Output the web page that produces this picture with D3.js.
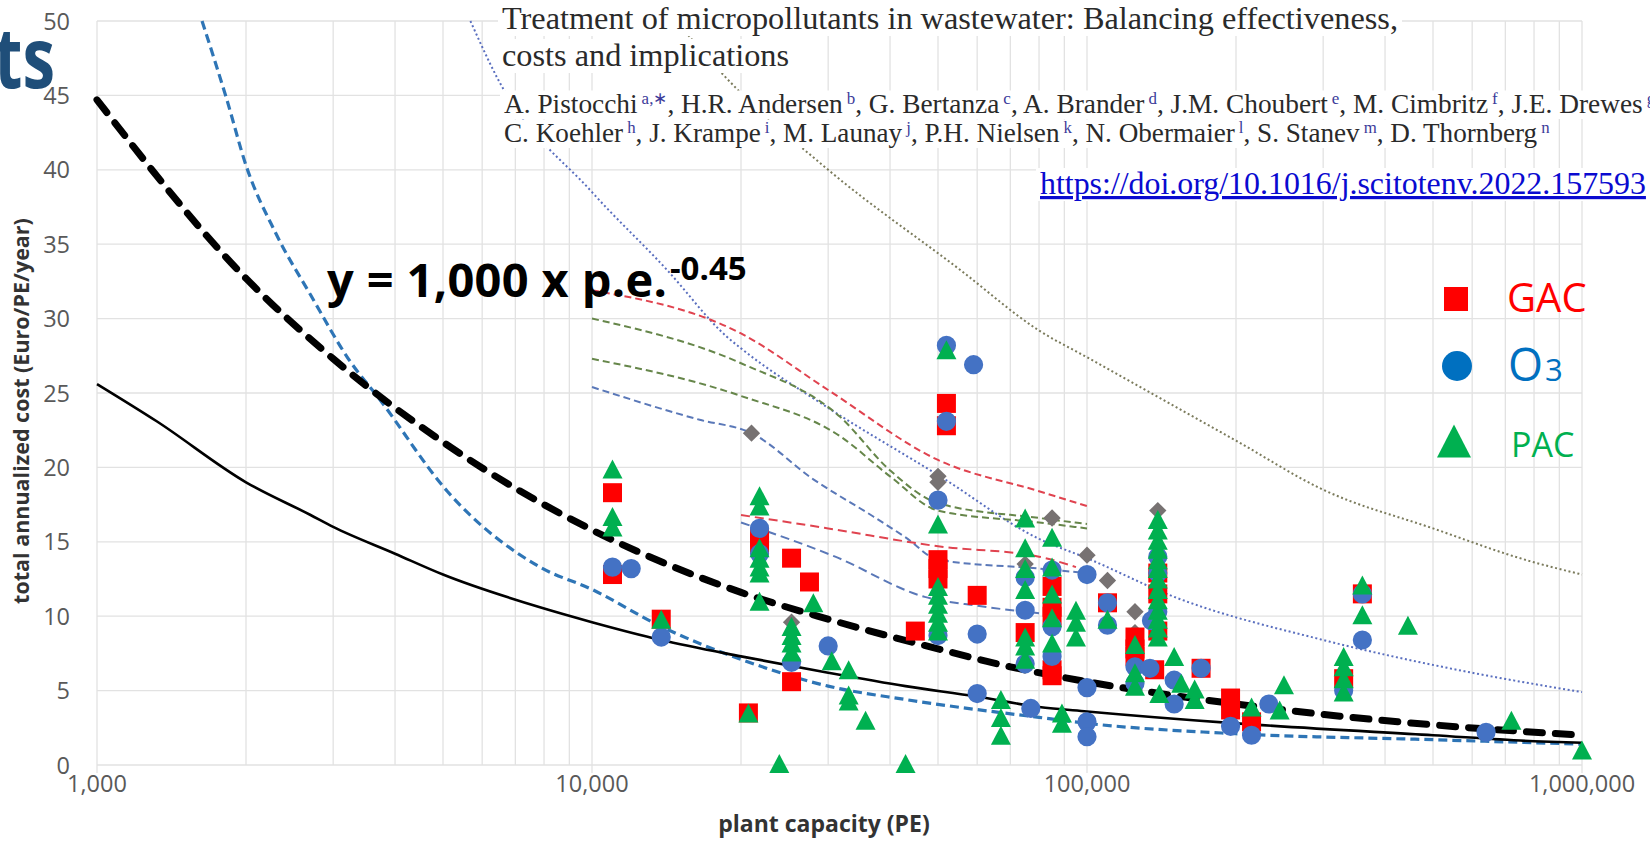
<!DOCTYPE html>
<html>
<head>
<meta charset="utf-8">
<script src="https://cdn.jsdelivr.net/npm/d3@7"></script>
<style>
  body { margin: 0; background: #fff; }
  svg { display: block; }
</style>
</head>
<body>
<div id="chart"></div>
<script>
// ---- data: [plant capacity (PE), cost (Euro/PE/year)] ----
const yTicks = [0, 5, 10, 15, 20, 25, 30, 35, 40, 45, 50];
const xDecades = [1000, 10000, 100000, 1000000];

const fitCurve = [[1000, 44.7], [2000, 32.7], [3000, 27.3], [5000, 21.7], [7000, 18.6], [10000, 15.8],
  [20000, 11.6], [30000, 9.8], [50000, 7.8], [70000, 6.6], [100000, 5.6], [200000, 4.1],
  [300000, 3.4], [500000, 2.7], [1000000, 2.0]];
const lowerCurve = [[1000, 25.6], [1320, 23.1], [2000, 19.0], [2700, 16.8], [3000, 16.0], [4000, 14.2],
  [5000, 12.8], [7850, 10.6], [10000, 9.6], [13800, 8.4], [20000, 7.3], [30000, 6.2], [43000, 5.3],
  [60000, 4.6], [80000, 3.9], [100000, 3.6], [200000, 2.8], [500000, 2.0], [800000, 1.6], [1000000, 1.5]];
const steepCurve = [[1630, 50], [1830, 44.7], [2000, 40.3], [2300, 35.7], [2700, 31.6], [3250, 27.1],
  [3700, 24.7], [5100, 18.4], [7850, 13.3], [10000, 11.8], [13800, 9.3], [20000, 7.1], [30000, 5.3],
  [43000, 4.4], [80000, 3.2], [100000, 2.8], [200000, 2.1], [500000, 1.7], [1000000, 1.4]];
const blueDotted = [[5680, 50], [6430, 46.2], [10000, 38.5], [14150, 33.3], [18700, 28.8], [20000, 28.0],
  [30000, 24.0], [50500, 19.4], [80000, 15.2], [100000, 13.9], [150000, 11.3], [300000, 8.4],
  [600000, 6.2], [1000000, 4.9]];
const oliveDotted = [[14800, 50], [18400, 46.4], [30000, 40.0], [55300, 33.3], [80000, 29.2],
  [100000, 27.4], [200000, 21.8], [300000, 18.5], [500000, 15.9], [785000, 13.7], [1000000, 12.8]];
const redHigh = [[10000, 31.9], [20000, 29.0], [30000, 25.2], [50000, 20.5], [80000, 18.4], [100000, 17.4]];
const greenA = [[10000, 30.0], [20000, 27.0], [31700, 23.4], [40000, 19.8], [50000, 17.6], [80000, 16.6], [100000, 16.2]];
const greenB = [[10000, 27.3], [20000, 24.8], [31700, 22.1], [40000, 19.4], [50000, 17.1], [80000, 16.3], [100000, 15.9]];
const blueMid = [[10000, 25.4], [16500, 23.2], [21000, 22.3], [28000, 19.2], [37000, 16.7], [43000, 15.3],
  [50000, 13.8], [80000, 13.2], [100000, 12.9]];
const redLow = [[20000, 16.8], [30000, 15.9], [50000, 14.7], [80000, 14.0], [95000, 13.3]];
const blueLow = [[20000, 16.3], [31000, 14.0], [47000, 11.3], [60000, 10.7], [80000, 10.2]];

const gacPoints = [[11000, 18.3], [11000, 12.8], [13800, 9.8], [20700, 3.5], [21800, 15.3], [21800, 14.9],
  [25300, 13.9], [25300, 5.6], [27500, 12.3], [45000, 9.0], [50000, 13.8], [50000, 13.2], [50000, 12.5],
  [52000, 24.3], [52000, 22.8], [60000, 11.4], [75000, 8.9], [85000, 12.0], [85000, 10.6], [85000, 10.0],
  [85000, 6.4], [85000, 6.0], [110000, 10.9], [125000, 8.6], [125000, 7.8], [125000, 7.3], [139000, 12.9],
  [139000, 11.5], [139000, 9.0], [137000, 6.4], [170000, 6.5], [195000, 4.5], [195000, 3.7], [215000, 2.9],
  [330000, 5.8], [360000, 11.5]];
const o3Points = [[11000, 13.3], [12000, 13.2], [13800, 8.6], [21800, 15.9], [21800, 14.2], [25300, 6.9],
  [30000, 8.0], [50000, 17.8], [50000, 8.7], [52000, 28.2], [52000, 23.1], [59000, 26.9], [60000, 8.8],
  [60000, 4.8], [75000, 12.6], [75000, 10.4], [75000, 6.8], [77000, 3.8], [85000, 13.1], [85000, 9.3],
  [85000, 7.3], [100000, 12.8], [100000, 5.2], [100000, 2.9], [100000, 1.9], [110000, 10.9], [110000, 9.4],
  [125000, 6.6], [125000, 5.5], [139000, 14.0], [139000, 12.9], [139000, 10.3], [135000, 9.7], [134000, 6.5],
  [150000, 5.7], [150000, 4.1], [170000, 6.5], [195000, 2.6], [215000, 2.0], [233000, 4.1], [330000, 5.0],
  [360000, 11.5], [360000, 8.4], [640000, 2.2]];
const pacPoints = [[11000, 19.9], [11000, 16.7], [11000, 16.0], [13800, 9.8], [20700, 3.5], [21800, 18.1],
  [21800, 17.4], [21800, 14.6], [21800, 13.9], [21800, 13.3], [21800, 12.9], [21800, 11.0], [23900, 0.1],
  [25300, 9.3], [25300, 8.7], [25300, 8.2], [25300, 7.6], [28000, 10.9], [30500, 7.0], [33000, 6.4],
  [33000, 4.7], [33000, 4.3], [35700, 3.0], [43000, 0.1], [50000, 16.2], [50000, 12.0], [50000, 11.4],
  [50000, 10.8], [50000, 10.2], [50000, 9.6], [50000, 9.0], [52000, 27.9], [67000, 4.4], [67000, 3.2],
  [67000, 2.0], [75000, 16.6], [75000, 14.6], [75000, 13.2], [75000, 11.8], [75000, 8.6], [75000, 8.0],
  [75000, 7.1], [85000, 15.3], [85000, 13.3], [85000, 11.5], [85000, 9.9], [85000, 8.2], [89000, 3.5],
  [89000, 2.8], [95000, 10.4], [95000, 9.6], [95000, 8.6], [110000, 9.8], [125000, 8.1], [125000, 6.2],
  [125000, 5.3], [139000, 16.5], [139000, 15.8], [139000, 15.1], [139000, 14.5], [139000, 13.8],
  [139000, 13.2], [139000, 12.5], [139000, 11.8], [139000, 11.1], [139000, 10.4], [139000, 9.8],
  [139000, 9.2], [139000, 8.6], [140000, 4.8], [150000, 7.3], [155000, 5.5], [165000, 5.1], [165000, 4.4],
  [215000, 3.9], [245000, 3.7], [250000, 5.4], [330000, 7.3], [330000, 6.6], [330000, 5.8], [330000, 4.9],
  [360000, 12.1], [360000, 10.1], [445000, 9.4], [720000, 3.0], [1000000, 1.0]];
const otherPoints = [[21000, 22.3], [25300, 9.6], [50000, 19.4], [50000, 19.0], [75000, 13.5], [85000, 16.6],
  [100000, 14.1], [110000, 12.4], [125000, 10.3], [125000, 8.9], [139000, 17.1]];

const titleLines = ["Treatment of micropollutants in wastewater: Balancing effectiveness,", "costs and implications"];
const authorLines = [
  [["A. Pistocchi", "a,\u2217"], [", H.R. Andersen", "b"], [", G. Bertanza", "c"], [", A. Brander", "d"],
   [", J.M. Choubert", "e"], [", M. Cimbritz", "f"], [", J.E. Drewes", "g"]],
  [["C. Koehler", "h"], [", J. Krampe", "i"], [", M. Launay", "j"], [", P.H. Nielsen", "k"],
   [", N. Obermaier", "l"], [", S. Stanev", "m"], [", D. Thornberg", "n"]]
];
const doiText = "https://doi.org/10.1016/j.scitotenv.2022.157593";
const legendItems = ["GAC", "O3", "PAC"];

// ---- layout ----
const W = 1650, H = 841;
const svg = d3.select("#chart").append("svg").attr("width", W).attr("height", H);

const x = d3.scaleLog().domain([1000, 1000000]).range([97, 1582]);
const y = d3.scaleLinear().domain([0, 50]).range([765, 21]);

// gridlines
svg.append("g").selectAll("line").data(x.ticks()).join("line")
  .attr("x1", d => x(d)).attr("x2", d => x(d))
  .attr("y1", y(50)).attr("y2", d => xDecades.includes(d) ? y(0) + 8 : y(0))
  .attr("stroke", "#e2e2e2").attr("stroke-width", 1.3);
svg.append("g").selectAll("line").data(yTicks).join("line")
  .attr("x1", x(1000)).attr("x2", x(1000000))
  .attr("y1", d => y(d)).attr("y2", d => y(d))
  .attr("stroke", "#e2e2e2").attr("stroke-width", 1.3);

// axis labels
svg.append("g").selectAll("text").data(yTicks).join("text")
  .attr("x", 70).attr("y", d => y(d) + 8.5)
  .attr("text-anchor", "end").attr("font-family", "Open Sans").attr("font-size", 23.5)
  .attr("fill", "#595959").text(d => d);
svg.append("g").selectAll("text").data(xDecades).join("text")
  .attr("x", d => x(d)).attr("y", 792)
  .attr("text-anchor", "middle").attr("font-family", "Open Sans").attr("font-size", 23.5)
  .attr("fill", "#595959").text(d => d3.format(",")(d));
svg.append("text")
  .attr("x", 824).attr("y", 832).attr("text-anchor", "middle")
  .attr("font-family", "Open Sans").attr("font-weight", "bold").attr("font-size", 23)
  .attr("fill", "#333").text("plant capacity (PE)");
svg.append("text")
  .attr("transform", "translate(29,411) rotate(-90)").attr("text-anchor", "middle")
  .attr("font-family", "Open Sans").attr("font-weight", "bold").attr("font-size", 21.5)
  .attr("fill", "#333").text("total annualized cost (Euro/PE/year)");

// curves
const lineGen = d3.line().x(d => x(d[0])).y(d => y(d[1])).curve(d3.curveMonotoneX);
const curveStyles = [
  { data: oliveDotted, color: "#7b7b5c", width: 2, dash: "2 2.6" },
  { data: blueDotted, color: "#5a6fbf", width: 2, dash: "2 2.6" },
  { data: redHigh, color: "#e0434f", width: 2, dash: "7 4" },
  { data: greenA, color: "#66864a", width: 2, dash: "7 4" },
  { data: greenB, color: "#66864a", width: 2, dash: "7 4" },
  { data: blueMid, color: "#5a78b8", width: 2, dash: "7 4" },
  { data: redLow, color: "#e0434f", width: 2, dash: "9 5" },
  { data: blueLow, color: "#5a78b8", width: 2, dash: "9 5" },
  { data: steepCurve, color: "#2e75b6", width: 3.2, dash: "9 5" },
  { data: lowerCurve, color: "#000", width: 2.6, dash: null },
  { data: fitCurve, color: "#000", width: 7, dash: "16 13", cap: "round" }
];
svg.append("g").selectAll("path").data(curveStyles).join("path")
  .attr("d", d => lineGen(d.data))
  .attr("fill", "none")
  .attr("stroke", d => d.color)
  .attr("stroke-width", d => d.width)
  .attr("stroke-dasharray", d => d.dash)
  .attr("stroke-linecap", d => d.cap || "butt");

// markers
const tri = (w, h) => `M0,${-h / 2}L${w / 2},${h / 2}L${-w / 2},${h / 2}Z`;
const markerGroups = [
  { data: otherPoints, color: "#777272", path: d3.symbol(d3.symbolSquare, 150)(), rotate: 45 },
  { data: gacPoints, color: "#ff0000", path: d3.symbol(d3.symbolSquare, 361)(), rotate: 0 },
  { data: o3Points, color: "#4472c4", path: d3.symbol(d3.symbolCircle, 290)(), rotate: 0 },
  { data: pacPoints, color: "#00b050", path: tri(20, 19), rotate: 0 }
];
markerGroups.forEach(g => {
  svg.append("g").selectAll("path").data(g.data).join("path")
    .attr("d", g.path)
    .attr("transform", d => `translate(${x(d[0])},${y(d[1])}) rotate(${g.rotate})`)
    .attr("fill", g.color);
});

// equation
const eq = svg.append("text").attr("x", 327).attr("y", 297)
  .attr("font-family", "Open Sans").attr("font-weight", "bold").attr("fill", "#000");
eq.append("tspan").attr("font-size", 47).attr("textLength", 340).attr("lengthAdjust", "spacing")
  .text("y = 1,000 x p.e.");
eq.append("tspan").attr("font-size", 33).attr("x", 670).attr("y", 280).text("-0.45");

// legend
const lg = svg.append("g");
lg.append("path").attr("d", d3.symbol(d3.symbolSquare, 576)()).attr("transform", "translate(1456,299)").attr("fill", "#ff0000");
lg.append("path").attr("d", d3.symbol(d3.symbolCircle, 707)()).attr("transform", "translate(1457,366)").attr("fill", "#0070c0");
lg.append("path").attr("d", tri(34, 33)).attr("transform", "translate(1454,441)").attr("fill", "#00b050");
lg.append("text").attr("x", 1507).attr("y", 312).attr("font-family", "Open Sans").attr("font-size", 40)
  .attr("fill", "#ff0000").text(legendItems[0]);
const o3 = lg.append("text").attr("x", 1508).attr("y", 381).attr("font-family", "Open Sans").attr("fill", "#0070c0");
o3.append("tspan").attr("font-size", 45).text(legendItems[1][0]);
o3.append("tspan").attr("font-size", 31).attr("dx", 2).text(legendItems[1][1]);
lg.append("text").attr("x", 1511).attr("y", 457).attr("font-family", "Open Sans").attr("font-size", 34)
  .attr("fill", "#00b050").text(legendItems[2]);

// paper header pasted on top of the chart
const header = svg.append("g");
function fitWidth(sel, w) {
  for (let k = 0; k < 3; k++) {
    const fs = parseFloat(sel.attr("font-size"));
    sel.attr("font-size", fs * w / sel.node().getBBox().width);
  }
}
function backFill(sel, pad) {
  const b = sel.node().getBBox();
  header.insert("rect", () => sel.node())
    .attr("x", b.x - pad).attr("y", b.y + 2).attr("width", b.width + 2 * pad).attr("height", b.height - 2)
    .attr("fill", "#fff");
}
const t1 = header.append("text").attr("x", 502).attr("y", 29).attr("font-family", "Liberation Serif")
  .attr("font-size", 28).attr("fill", "#2a2a2a").text(titleLines[0]);
fitWidth(t1, 896);
const t2 = header.append("text").attr("x", 502).attr("y", 66).attr("font-family", "Liberation Serif")
  .attr("font-size", t1.attr("font-size")).attr("fill", "#2a2a2a").text(titleLines[1]);
[t1, t2].forEach(t => backFill(t, 4));

const authorY = [113, 142];
const authorW = [1152, 1046];
authorLines.forEach((parts, i) => {
  const t = header.append("text").attr("x", 504).attr("y", authorY[i])
    .attr("font-family", "Liberation Serif").attr("font-size", 22).attr("fill", "#2a2a2a");
  parts.forEach(p => {
    t.append("tspan").text(p[0]);
    t.append("tspan").attr("font-size", "0.62em").attr("fill", "#3b3b9a").attr("dx", 4)
      .attr("baseline-shift", "super").text(p[1]);
  });
  fitWidth(t, authorW[i]);
  backFill(t, 4);
});

const doi = header.append("text").attr("x", 1040).attr("y", 194).attr("font-family", "Liberation Serif")
  .attr("font-size", 26).attr("fill", "#0a0ad0").attr("text-decoration", "underline").text(doiText);
fitWidth(doi, 606);
backFill(doi, 4);

// cropped slide title
svg.append("text").attr("x", -6).attr("y", 88)
  .attr("font-family", "Open Sans").attr("font-weight", "bold").attr("font-size", 84)
  .attr("textLength", 61).attr("lengthAdjust", "spacingAndGlyphs")
  .attr("fill", "#1f4e79").text("ts");
</script>
</body>
</html>
